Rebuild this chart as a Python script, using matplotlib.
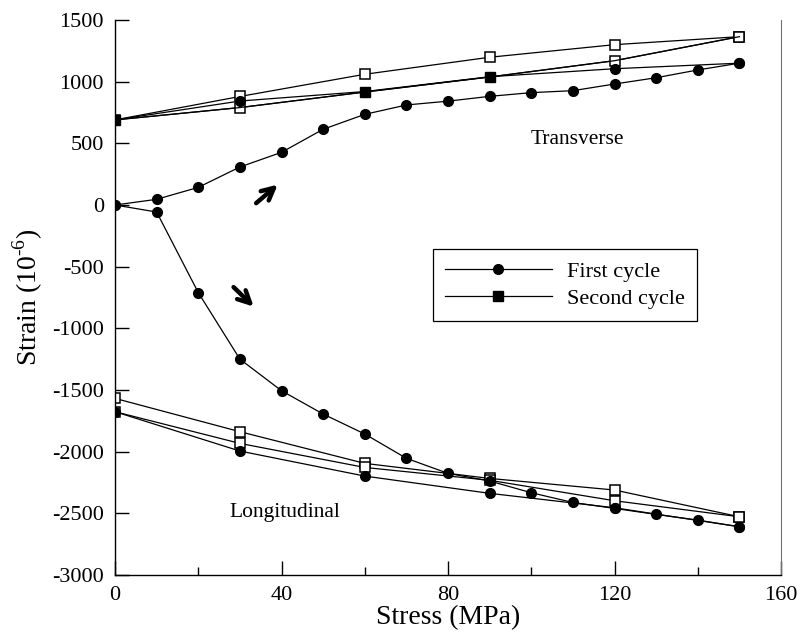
import matplotlib
matplotlib.use("Agg")
import matplotlib.pyplot as plt

plt.rcParams['font.family'] = ['Liberation Serif', 'DejaVu Serif']
plt.rcParams['mathtext.fontset'] = 'custom'
plt.rcParams['mathtext.rm'] = 'Liberation Serif'
plt.rcParams['axes.unicode_minus'] = False

# stress steps
stress_fine = [0, 10, 20, 30, 40, 50, 60, 70, 80, 90, 100, 110, 120, 130, 140, 150]
stress_cycle = [0, 30, 60, 90, 120, 150]

# transverse strain (10^-6)
t_load1 = [0, 46, 143, 308, 427, 614, 735, 811, 842, 881, 911, 927, 981, 1032, 1095, 1150]
t_unload1 = [690, 843, 920, 1040, 1105, 1150]
t_load2 = [690, 790, 916, 1038, 1170, 1365]
t_unload2 = [690, 880, 1060, 1198, 1300, 1365]

# longitudinal strain (10^-6)
l_load1 = [0, -57, -710, -1250, -1506, -1695, -1857, -2054, -2176, -2238, -2333, -2412, -2460, -2509, -2555, -2609]
l_unload1 = [-1676, -1995, -2198, -2338, -2455, -2609]
l_load2 = [-1676, -1933, -2128, -2232, -2398, -2528]
l_unload2 = [-1568, -1838, -2095, -2217, -2311, -2528]

fig = plt.figure(figsize=(7.97, 6.35), dpi=100)
ax = fig.add_axes([0.1443, 0.0945, 0.8357, 0.874])

lw = 0.9
circ = dict(color='black', lw=lw, marker='o', ms=7, mfc='black', mec='black')
sq_open = dict(color='black', lw=lw, marker='s', ms=6.5, mfc='white', mec='black', mew=1.1)
sq_fill = dict(color='black', lw=lw, marker='s', ms=6.5, mfc='black', mec='black')

# transverse
ax.plot(stress_cycle, t_unload2, **sq_open)
ax.plot(stress_cycle, t_load2, markevery=[1, 4, 5], **sq_open)
ax.plot(stress_cycle, t_load2, markevery=[0, 2, 3], label='Second cycle', **sq_fill)
ax.plot(stress_cycle, t_unload1, **circ)
ax.plot(stress_fine, t_load1, label='First cycle', **circ)

# longitudinal
ax.plot(stress_cycle, l_unload2, **sq_open)
ax.plot(stress_cycle, l_load2, **sq_open)
ax.plot(stress_cycle, l_unload1, **circ)
ax.plot(stress_fine, l_load1, **circ)

ax.set_xlim(0, 160)
ax.set_ylim(-3000, 1500)
ax.set_xticks([0, 40, 80, 120, 160])
ax.set_xticks([20, 60, 100, 140], minor=True)
ax.set_yticks(range(-3000, 1501, 500))
ax.tick_params(axis='both', which='major', direction='in', length=10, width=1,
               labelsize=16, pad=8, right=False, top=False)
ax.tick_params(axis='x', which='minor', direction='in', length=6, width=1, top=False)
ax.spines['top'].set_visible(False)
ax.spines['right'].set_color('#707070')
for s in ['left', 'bottom']:
    ax.spines[s].set_linewidth(1)

ax.set_xlabel('Stress (MPa)', fontsize=20, labelpad=0)
ax.set_ylabel(r'Strain (10$^{\text{-6}}$)', fontsize=20, labelpad=5)

ax.text(111, 535, 'Transverse', fontsize=15.5, ha='center', va='center')
ax.text(40.8, -2490, 'Longitudinal', fontsize=15.5, ha='center', va='center')

ax.annotate('', xy=(39.6, 180), xytext=(33.4, 0),
            arrowprops=dict(arrowstyle='->', lw=3.2, color='black', mutation_scale=22))
ax.annotate('', xy=(33.8, -840), xytext=(28, -650),
            arrowprops=dict(arrowstyle='->', lw=3.2, color='black', mutation_scale=22))

handles, labels = ax.get_legend_handles_labels()
leg = ax.legend(handles[::-1], labels[::-1], loc='upper left', bbox_to_anchor=(0.477, 0.587),
                borderaxespad=0, fontsize=16, handlelength=4.8, handletextpad=0.7,
                labelspacing=0.3, borderpad=0.55, fancybox=False, framealpha=1,
                edgecolor='black')
leg.get_frame().set_linewidth(0.9)

fig.savefig('out.png', dpi=100)
